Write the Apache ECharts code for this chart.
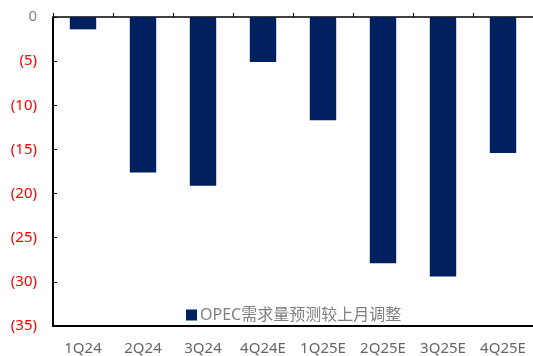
<!DOCTYPE html>
<html>
<head>
<meta charset="utf-8">
<script src="https://cdn.jsdelivr.net/npm/echarts@6/dist/echarts.min.js"></script>
<style>
  html, body { margin: 0; padding: 0; background: #fff; }
  #chart { width: 533px; height: 356px; }
</style>
</head>
<body>
<div id="chart"></div>
<script>
// 季度
const categories = ["1Q24", "2Q24", "3Q24", "4Q24E", "1Q25E", "2Q25E", "3Q25E", "4Q25E"]
// OPEC需求量预测较上月调整
const revisions = [-1.4, -17.6, -19.1, -5.1, -11.7, -27.9, -29.4, -15.4]
const seriesName = "OPEC需求量预测较上月调整"

const font = "'Noto Sans', 'Noto Sans CJK SC', sans-serif"
const myChart = echarts.init(document.getElementById("chart"))

const option = {
  animation: false,
  grid: {
    left: 53,
    top: 17,
    width: 486,
    height: 310
  },
  legend: {
    data: [seriesName],
    left: 181,
    top: 302,
    itemWidth: 11,
    itemHeight: 11,
    itemGap: 3,
    icon: "rect",
    textStyle: { color: "#7f7f7f", fontSize: 16, fontFamily: font, padding: [0, 0, 0, -2] }
  },
  xAxis: [
    {
      // 顶部 0 轴线
      type: "category",
      position: "top",
      data: categories,
      axisLine: { show: true, lineStyle: { color: "#404040", width: 2 } },
      axisTick: { show: true, inside: false, length: 4, lineStyle: { color: "#000" } },
      axisLabel: { show: false }
    },
    {
      type: "category",
      position: "bottom",
      data: categories,
      axisLine: { show: true, lineStyle: { color: "#000", width: 2 } },
      axisTick: { show: false },
      axisLabel: { color: "#666", fontSize: 15, margin: 15, fontFamily: font }
    }
  ],
  yAxis: {
    type: "value",
    min: -35,
    max: 0,
    interval: 5,
    axisLine: { show: true, lineStyle: { color: "#000", width: 2 } },
    axisTick: { show: true, inside: true, length: 4, lineStyle: { color: "#000" } },
    splitLine: { show: false },
    axisLabel: {
      fontSize: 15,
      margin: 16,
      fontFamily: font,
      formatter: (v) => (v < 0 ? "(" + Math.abs(v) + ")" : String(v)),
      color: (v) => (Number(v) < 0 ? "#ff0000" : "#7f7f7f")
    }
  },
  series: [
    {
      name: seriesName,
      type: "bar",
      xAxisIndex: 0,
      data: revisions,
      barWidth: "44%",
      itemStyle: { color: "#002060" }
    }
  ]
}
myChart.setOption(option)
</script>
</body>
</html>
